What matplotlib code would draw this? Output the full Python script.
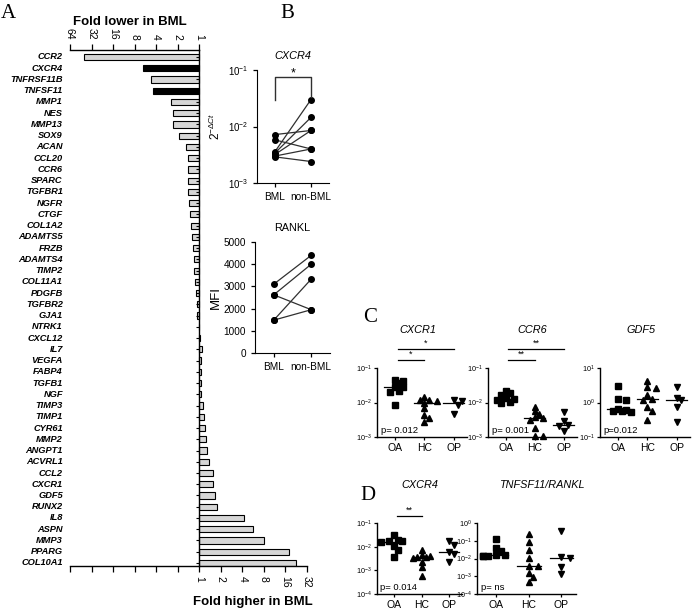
import matplotlib.pyplot as plt
import numpy as np

plt.rcParams['font.family'] = ['Liberation Sans', 'DejaVu Sans']
plt.rcParams['mathtext.fontset'] = 'custom'
plt.rcParams['mathtext.rm'] = 'Liberation Sans'
plt.rcParams['mathtext.it'] = 'Liberation Sans:italic'

# ---- panel A: fold change BML vs non-BML (log2 units, negative = lower in BML)
genes = ['CCR2', 'CXCR4', 'TNFRSF11B', 'TNFSF11', 'MMP1', 'NES', 'MMP13', 'SOX9',
         'ACAN', 'CCL20', 'CCR6', 'SPARC', 'TGFBR1', 'NGFR', 'CTGF', 'COL1A2',
         'ADAMTS5', 'FRZB', 'ADAMTS4', 'TIMP2', 'COL11A1', 'PDGFB', 'TGFBR2', 'GJA1',
         'NTRK1', 'CXCL12', 'IL7', 'VEGFA', 'FABP4', 'TGFB1', 'NGF', 'TIMP3', 'TIMP1',
         'CYR61', 'MMP2', 'ANGPT1', 'ACVRL1', 'CCL2', 'CXCR1', 'GDF5', 'RUNX2', 'IL8',
         'ASPN', 'MMP3', 'PPARG', 'COL10A1']
log2_fc = [-5.33, -2.63, -2.25, -2.17, -1.30, -1.22, -1.22, -0.92,
           -0.60, -0.54, -0.54, -0.52, -0.52, -0.49, -0.41, -0.38,
           -0.34, -0.29, -0.26, -0.23, -0.20, -0.17, -0.11, -0.11,
           -0.03, 0.03, 0.12, 0.10, 0.10, 0.10, 0.10, 0.15, 0.20,
           0.25, 0.30, 0.35, 0.46, 0.66, 0.66, 0.73, 0.81, 2.06,
           2.49, 3.00, 4.17, 4.48]
dark_genes = ['CXCR4', 'TNFSF11']

# ---- panel B
cxcr4_bml = [7.2e-3, 5.8e-3, 3.6e-3, 3.4e-3, 3.2e-3, 3.0e-3, 2.9e-3]
cxcr4_non = [8.5e-3, 4.0e-3, 3.0e-2, 1.45e-2, 8.5e-3, 4.0e-3, 2.4e-3]
rankl_bml = [3100, 2620, 2620, 1480, 1480]
rankl_non = [4400, 4000, 1950, 3330, 1950]

# ---- panels C and D: OA, HC, OP groups
cxcr1_oa = [0.046, 0.043, 0.036, 0.029, 0.028, 0.022, 0.020, 0.0087]
cxcr1_hc = [0.014, 0.012, 0.012, 0.011, 0.0097, 0.0069, 0.0044, 0.0036, 0.0028]
cxcr1_op = [0.0115, 0.011, 0.0085, 0.0045]
ccr6_oa = [0.021, 0.019, 0.016, 0.0135, 0.0125, 0.012, 0.0105, 0.0097]
ccr6_hc = [0.0075, 0.0055, 0.0045, 0.0037, 0.0035, 0.0032, 0.0018, 0.0011, 0.00105]
ccr6_op = [0.0052, 0.0029, 0.0023, 0.0021, 0.00145]
gdf5_oa = [3.0, 1.25, 1.15, 0.66, 0.62, 0.58, 0.55, 0.53]
gdf5_hc = [4.3, 2.8, 2.6, 1.6, 1.25, 1.2, 0.76, 0.57, 0.32]
gdf5_op = [2.9, 1.35, 1.2, 0.72, 0.27]
cxcr4_oa = [0.030, 0.020, 0.018, 0.017, 0.016, 0.011, 0.0075, 0.0037]
cxcr4_hc = [0.0072, 0.0045, 0.0042, 0.0038, 0.0035, 0.0032, 0.0023, 0.0014, 0.0006]
cxcr4_op = [0.018, 0.012, 0.0058, 0.005, 0.0023]
rankl_oa = [0.125, 0.038, 0.028, 0.016, 0.015, 0.014, 0.013, 0.013]
rankl_hc = [0.25, 0.09, 0.03, 0.0105, 0.0038, 0.0036, 0.0015, 0.00095, 0.0005]
rankl_op = [0.34, 0.012, 0.0105, 0.0035, 0.0014]
groups = ['OA', 'HC', 'OP']

W, H = 693, 611
fig = plt.figure(figsize=(W / 100, H / 100), dpi=100)


def px_axes(left, top, right, bottom):
    return fig.add_axes([left / W, 1 - bottom / H, (right - left) / W, (bottom - top) / H])


# ================= A =================
ax = px_axes(70, 50, 307, 566)
y = np.arange(len(genes))
colors = ['black' if g in dark_genes else '#d6d6d6' for g in genes]
ax.barh(y, log2_fc, height=0.55, color=colors, edgecolor='black', linewidth=0.8)
ax.set_xlim(-6, 5)
ax.set_ylim(len(genes) - 0.73, -0.62)
ax.spines['top'].set_visible(False)
ax.spines['right'].set_visible(False)
ax.spines['left'].set_position(('data', 0))
ax.spines['left'].set_linewidth(1.0)
ax.spines['bottom'].set_linewidth(1.0)
ax.set_yticks(y)
ax.set_yticklabels([])
ax.tick_params(axis='y', length=2.5, width=0.8, direction='out')
xt = np.arange(-6, 6)
ax.set_xticks(xt)
ax.set_xticklabels(['' if v < 0 else str(2 ** v) for v in xt], rotation=270, fontsize=7.5)
ax.tick_params(axis='x', length=4, width=0.9)
for i, g in enumerate(genes):
    ax.text(-0.03, i, g, transform=ax.get_yaxis_transform(), ha='right', va='center',
            fontsize=6.7, fontstyle='italic', fontweight='bold')

ax2 = ax.twiny()
ax2.set_xlim(-6, 5)
for s in ['bottom', 'left', 'right']:
    ax2.spines[s].set_visible(False)
ax2.spines['top'].set_bounds(-6, 0)
ax2.spines['top'].set_linewidth(1.0)
ax2.set_xticks(np.arange(-6, 1))
ax2.set_xticklabels([str(2 ** -v) for v in range(-6, 1)], rotation=270, fontsize=7.5)
ax2.tick_params(axis='x', length=4, width=0.9)

fig.text(130 / W, 1 - 22 / H, 'Fold lower in BML', ha='center', va='center',
         fontsize=9.5, fontweight='bold')
fig.text(253 / W, 1 - 602 / H, 'Fold higher in BML', ha='center', va='center',
         fontsize=9.5, fontweight='bold')
fig.text(8 / W, 1 - 13 / H, 'A', fontsize=15, family='Liberation Serif', ha='center', va='center')


# ================= B =================
def paired(axb, a, b):
    for va, vb in zip(a, b):
        axb.plot([0, 1], [va, vb], '-o', color='#303030', lw=0.9, ms=4,
                 mfc='black', mec='black')
    axb.set_xlim(-0.5, 1.5)
    axb.spines['top'].set_visible(False)
    axb.spines['right'].set_visible(False)
    axb.set_xticks([0, 1])
    axb.set_xticklabels(['BML', 'non-BML'], fontsize=7.8)
    axb.tick_params(length=3, width=0.9, labelsize=7.2)


bx = px_axes(257, 70, 329, 183)
paired(bx, cxcr4_bml, cxcr4_non)
bx.set_yscale('log')
bx.set_ylim(1e-3, 1e-1)
bx.set_yticks([1e-3, 1e-2, 1e-1])
bx.set_yticklabels(['$10^{-3}$', '$10^{-2}$', '$10^{-1}$'], fontsize=7)
bx.minorticks_off()
bx.set_ylabel(r'$2^{-\Delta Ct}$', fontsize=8.5, labelpad=3)
tr = bx.get_xaxis_transform()
bx.plot([0, 0, 1, 1], [0.735, 0.94, 0.94, 0.76], color='#303030', lw=1.0, transform=tr)
bx.text(0.5, 0.97, '*', transform=tr, ha='center', va='center', fontsize=9)
bx.set_title('CXCR4', fontsize=7.8, fontstyle='italic', pad=8)

rx = px_axes(255, 242, 330, 353)
paired(rx, rankl_bml, rankl_non)
rx.set_ylim(0, 5000)
rx.set_yticks(range(0, 5001, 1000))
rx.set_ylabel('MFI', fontsize=9.5, labelpad=1)
rx.set_title('RANKL', fontsize=7.8, pad=8)
fig.text(287 / W, 1 - 14 / H, 'B', fontsize=15, family='Liberation Serif', ha='center', va='center')


# ================= C / D =================
def swarm(vals, px_dec, px_unit, size=4.6):
    yy = np.log10(vals) * px_dec
    placed, offs = [], []
    for yi in yy:
        for k in [0, 1, -1, 2, -2, 3, -3]:
            xk = k * size * 0.95
            if all((xk - a) ** 2 + (yi - b) ** 2 >= size ** 2 for a, b in placed):
                break
        placed.append((xk, yi))
        offs.append(xk / px_unit)
    return np.array(offs)


def dotplot(box, data, ylo, yhi, title, ptxt, tx=0.5):
    l, t, r, b = box
    axc = px_axes(l, t, r, b)
    axc.set_yscale('log')
    axc.set_xlim(-0.6, 2.45)
    axc.set_ylim(10.0 ** ylo, 10.0 ** yhi)
    px_dec = (b - t) / (yhi - ylo)
    px_unit = (r - l) / 3.05
    markers = ['s', '^', 'v']
    for k, vals in enumerate(data):
        vals = np.array(vals)
        xo = swarm(vals, px_dec, px_unit)
        axc.plot(k + xo, vals, linestyle='none', marker=markers[k], ms=3.7,
                 color='black', clip_on=False)
        med = np.median(vals)
        axc.plot([k - 0.36, k + 0.36], [med, med], color='black', lw=0.9)
    axc.spines['top'].set_visible(False)
    axc.spines['right'].set_visible(False)
    axc.spines['left'].set_linewidth(1.0)
    axc.spines['bottom'].set_linewidth(1.0)
    dec = list(range(ylo, yhi + 1))
    axc.set_yticks([10.0 ** d for d in dec])
    axc.set_yticklabels(['$10^{%d}$' % d for d in dec], fontsize=5.2)
    axc.minorticks_off()
    axc.set_xticks([0, 1, 2])
    axc.set_xticklabels(groups, fontsize=7.5)
    axc.tick_params(length=2.5, width=0.9, pad=1.5)
    axc.text(0.04, 0.03, ptxt, transform=axc.transAxes, fontsize=6.8, ha='left', va='bottom')
    axc.text(tx, 1 + 38 / (b - t), title, transform=axc.transAxes,
             ha='center', va='center', fontsize=7.8, fontstyle='italic')
    return axc


def bracket(axc, x0, x1, yfrac, stars):
    tr = axc.get_xaxis_transform()
    axc.plot([x0, x1], [yfrac, yfrac], color='black', lw=0.9, transform=tr, clip_on=False)
    axc.text((x0 + x1) / 2, yfrac + 0.02, stars, transform=tr, ha='center', va='bottom',
             fontsize=6.5, clip_on=False)


c1 = dotplot((377, 368, 467, 437), [cxcr1_oa, cxcr1_hc, cxcr1_op], -3, -1, 'CXCR1', 'p= 0.012', 0.45)
bracket(c1, 0.1, 1.0, 1.11, '*')
bracket(c1, 0.1, 2.0, 1.275, '*')
c2 = dotplot((488, 368, 577, 437), [ccr6_oa, ccr6_hc, ccr6_op], -3, -1, 'CCR6', 'p= 0.001')
bracket(c2, 0.1, 1.0, 1.11, '**')
bracket(c2, 0.1, 2.0, 1.275, '**')
c3 = dotplot((600, 368, 690, 437), [gdf5_oa, gdf5_hc, gdf5_op], -1, 1, 'GDF5', 'p=0.012', 0.45)
fig.text(370 / W, 1 - 317 / H, 'C', fontsize=15, family='Liberation Serif', ha='center', va='center')

d1 = dotplot((377, 523, 462, 594), [cxcr4_oa, cxcr4_hc, cxcr4_op], -4, -1, 'CXCR4', 'p= 0.014')
bracket(d1, 0.1, 1.0, 1.1, '**')
d2 = dotplot((477, 523, 576, 594), [rankl_oa, rankl_hc, rankl_op], -4, 0, 'TNFSF11/RANKL', 'p= ns', 0.65)
fig.text(368 / W, 1 - 495 / H, 'D', fontsize=15, family='Liberation Serif', ha='center', va='center')

fig.savefig('out.png', dpi=100)
